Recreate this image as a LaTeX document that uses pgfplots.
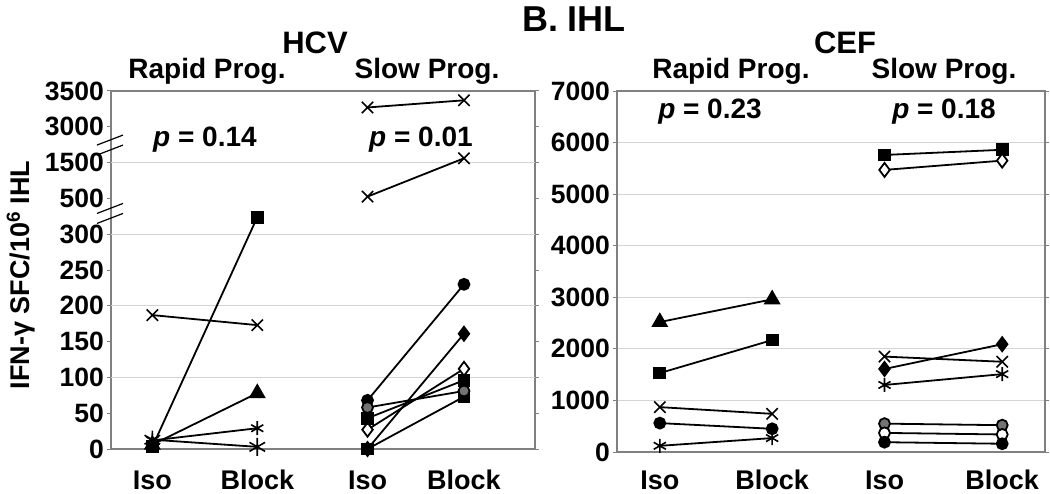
\documentclass[border=0pt]{standalone}
\usepackage{fontspec}
\setmainfont{Liberation Sans}
\usepackage{pgfplots}
\pgfplotsset{compat=1.18}
\definecolor{axgray}{RGB}{128,128,128}
\definecolor{gridgray}{RGB}{212,212,212}
\definecolor{mkgray}{RGB}{115,115,115}
\pgfplotsset{
  panel/.style={
    scale only axis, clip=false,
    axis line style={axgray, line width=2.6pt},
    xmin=0, xmax=4,
    xticklabels={Iso,Block,Iso,Block},
    xtick style={draw=none},
    ytick style={axgray, line width=1pt},
    major tick length=4pt, tick align=outside,
    major grid style={gridgray, line width=1pt},
    yticklabel style={font=\fontsize{26.5}{26.5}\selectfont\bfseries, anchor=east, inner sep=0pt, xshift=-3pt},
    xticklabel style={font=\fontsize{27}{27}\selectfont\bfseries, anchor=base, inner sep=0pt},
    /pgf/number format/assume math mode=true,
  },
  ln/.style={black, line width=1.8pt, mark options={solid, line width=1pt}},
  sq/.style={ln, mark=square*, mark size=5.5pt, mark options={fill=black}},
  tri/.style={ln, mark=triangle*, mark size=8pt, mark options={fill=black}},
  circ/.style={ln, mark=*, mark size=5.5pt, mark options={fill=black}},
  gcirc/.style={ln, mark=*, mark size=5.5pt, mark options={fill=mkgray, draw=black}},
  ocirc/.style={ln, mark=*, mark size=5.5pt, mark options={fill=white, draw=black}},
  dia/.style={ln, mark=diamond*, mark size=7pt, mark options={fill=black}},
  odia/.style={ln, mark=diamond*, mark size=7pt, mark options={fill=white, draw=black}},
  xm/.style={ln, mark=x, mark size=8pt, mark options={line width=1.6pt}},
  ast/.style={ln, mark=asterisk, mark size=7pt, mark options={line width=1.6pt}},
}
\begin{document}
\begin{tikzpicture}
\useasboundingbox (0pt,0pt) rectangle (1050pt,493pt);
% ---------- titles ----------
\node[font=\fontsize{36}{36}\selectfont\bfseries, anchor=base] at (574pt,461pt) {B. IHL};
\node[font=\fontsize{31}{31}\selectfont\bfseries, anchor=base] at (315pt,439pt) {HCV};
\node[font=\fontsize{31}{31}\selectfont\bfseries, anchor=base] at (845pt,439pt) {CEF};
\node[font=\fontsize{28}{28}\selectfont\bfseries, anchor=base] at (207pt,414pt) {Rapid Prog.};
\node[font=\fontsize{28}{28}\selectfont\bfseries, anchor=base] at (427pt,414pt) {Slow Prog.};
\node[font=\fontsize{28}{28}\selectfont\bfseries, anchor=base] at (731pt,414pt) {Rapid Prog.};
\node[font=\fontsize{28}{28}\selectfont\bfseries, anchor=base] at (944pt,414pt) {Slow Prog.};
\node[font=\fontsize{27}{27}\selectfont\bfseries, rotate=90, anchor=base] at (29pt,218pt) {IFN-γ SFC/10\textsuperscript{6} IHL};
% ---------- HCV panel ----------
\begin{axis}[panel, at={(111pt,44pt)}, anchor=south west, width=424pt, height=358pt,
  y coord trafo/.code={\pgfmathparse{(#1<=300)?(#1/50):((#1<=500)?(6+(#1-300)/200):((#1<=1500)?(7+(#1-500)/1000):((#1<=3000)?(8+(#1-1500)/1500):(9+(#1-3000)/500))))}},
  ymin=0, ymax=3500,
  ytick={0,50,100,150,200,250,300,500,1500,3000,3500},
  yticklabels={0,50,100,150,200,250,300,500,1500,3000,3500},
  extra y ticks={100,200,300,1500}, extra y tick labels={},
  extra y tick style={ymajorgrids=true, major tick length=0pt},
  xtick={0.39,1.38,2.42,3.33},
  xticklabel style={yshift=-36pt},
]
% rapid progressors
\addplot[xm]  coordinates {(0.39,187) (1.38,173)};
\addplot[sq]  coordinates {(0.39,3) (1.38,395)};
\addplot[tri] coordinates {(0.39,6) (1.38,78)};
\addplot[ast] coordinates {(0.39,12) (1.38,29)};
\addplot[ast, mark size=9pt] coordinates {(0.39,13) (1.38,3)};
% slow progressors
\addplot[xm]    coordinates {(2.42,3270) (3.33,3370)};
\addplot[xm]    coordinates {(2.42,550) (3.33,1680)};
\addplot[circ]  coordinates {(2.42,68) (3.33,230)};
\addplot[dia]   coordinates {(2.42,0) (3.33,161)};
\addplot[sq]    coordinates {(2.42,0) (3.33,73)};
\addplot[odia]  coordinates {(2.42,27) (3.33,112)};
\addplot[sq]    coordinates {(2.42,43) (3.33,96)};
\addplot[gcirc] coordinates {(2.42,58) (3.33,81)};
% axis breaks
\draw[black, line width=1.2pt] ([shift={(-14pt,0pt)}]rel axis cs:0,0.849) -- ([shift={(12pt,10pt)}]rel axis cs:0,0.849);
\draw[black, line width=1.2pt] ([shift={(-14pt,-10pt)}]rel axis cs:0,0.849) -- ([shift={(12pt,0pt)}]rel axis cs:0,0.849);
\draw[black, line width=1.2pt] ([shift={(-14pt,0pt)}]rel axis cs:0,0.658) -- ([shift={(12pt,10pt)}]rel axis cs:0,0.658);
\draw[black, line width=1.2pt] ([shift={(-14pt,-10pt)}]rel axis cs:0,0.658) -- ([shift={(12pt,0pt)}]rel axis cs:0,0.658);
\end{axis}
\node[font=\fontsize{28}{28}\selectfont\bfseries, anchor=base] at (205pt,346pt) {\textit{p} = 0.14};
\node[font=\fontsize{28}{28}\selectfont\bfseries, anchor=base] at (421pt,346pt) {\textit{p} = 0.01};
% ---------- CEF panel ----------
\begin{axis}[panel, at={(617pt,41pt)}, anchor=south west, width=428pt, height=361pt,
  ymin=0, ymax=7000,
  ytick={0,1000,2000,3000,4000,5000,6000,7000},
  yticklabels={0,1000,2000,3000,4000,5000,6000,7000},
  ymajorgrids,
  xtick={0.40,1.45,2.50,3.60},
  xticklabel style={yshift=-33pt},
]
% rapid progressors
\addplot[tri] coordinates {(0.40,2520) (1.45,2960)};
\addplot[sq]  coordinates {(0.40,1530) (1.45,2170)};
\addplot[xm]  coordinates {(0.40,870) (1.45,740)};
\addplot[circ] coordinates {(0.40,560) (1.45,450)};
\addplot[ast] coordinates {(0.40,120) (1.45,270)};
% slow progressors
\addplot[sq]    coordinates {(2.50,5760) (3.60,5860)};
\addplot[odia]  coordinates {(2.50,5470) (3.60,5650)};
\addplot[dia]   coordinates {(2.50,1610) (3.60,2090)};
\addplot[xm]    coordinates {(2.50,1850) (3.60,1750)};
\addplot[ast]   coordinates {(2.50,1300) (3.60,1510)};
\addplot[gcirc] coordinates {(2.50,550) (3.60,520)};
\addplot[ocirc] coordinates {(2.50,370) (3.60,340)};
\addplot[circ]  coordinates {(2.50,190) (3.60,160)};
\end{axis}
\node[font=\fontsize{28}{28}\selectfont\bfseries, anchor=base] at (710pt,374pt) {\textit{p} = 0.23};
\node[font=\fontsize{28}{28}\selectfont\bfseries, anchor=base] at (944pt,374pt) {\textit{p} = 0.18};
\end{tikzpicture}
\end{document}
